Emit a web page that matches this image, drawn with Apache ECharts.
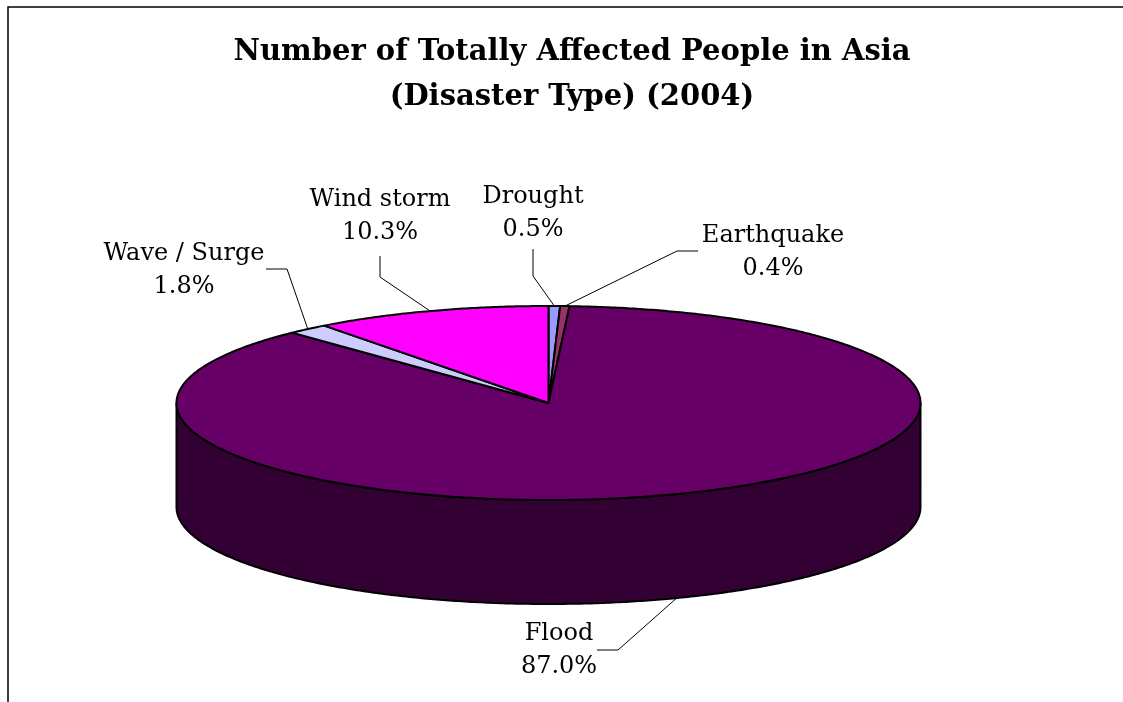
<!DOCTYPE html>
<html><head><meta charset="utf-8">
<script src="https://cdn.jsdelivr.net/npm/echarts@6/dist/echarts.min.js"></script>
<style>html,body{margin:0;padding:0;background:#fff}#c{width:1123px;height:702px}</style>
</head><body><div id="c"></div>
<script>
// ---- data ----
const titleLines = ['Number of Totally Affected People in Asia', '(Disaster Type) (2004)'];
const categories = ['Drought', 'Earthquake', 'Flood', 'Wave / Surge', 'Wind storm'];
const shares = [0.5, 0.4, 87.0, 1.8, 10.3];

// ---- styles / layout ----
const topColors = ['#9999FF', '#993366', '#660066', '#CCCCFF', '#FF00FF'];
const sideColors = ['#4D4D80', '#4D1A33', '#330033', '#666680', '#800080'];
const PIE = { cx: 548.5, cy: 403, rx: 372, ry: 97, depth: 104 };
const labelCenter = [[533, 213], [773, 252], [559, 650], [184, 270], [380, 216]];
const leaderElbow = [
  [[533, 249], [533, 276]],
  [[698, 251], [677, 251]],
  [[597, 650], [618, 650]],
  [[266, 269], [287, 269]],
  [[380, 256], [380, 277]]
];
const FONT = 'DejaVu Serif';

const total = shares.reduce((a, b) => a + b, 0);
const cum = [];
shares.reduce((acc, v, i) => { cum[i] = acc; return acc + v; }, 0);

function pt(a, dy) {
  const r = a * Math.PI / 180;
  return [PIE.cx + PIE.rx * Math.sin(r), PIE.cy - PIE.ry * Math.cos(r) + (dy || 0)];
}
function arc(s, e, dy) {
  const n = Math.max(2, Math.ceil((e - s) / 0.5));
  const out = [];
  for (let k = 0; k <= n; k++) out.push(pt(s + (e - s) * k / n, dy));
  return out;
}

function renderItem(params, api) {
  const i = params.dataIndex;
  const start = api.value(0), val = api.value(1);
  const a0 = start / total * 360, a1 = (start + val) / total * 360;
  const children = [];
  const s0 = Math.max(a0, 90), s1 = Math.min(a1, 270);
  if (s1 > s0) {
    const top = arc(s0, s1, 0);
    const bot = arc(s0, s1, PIE.depth).reverse();
    children.push({ type: 'polygon', shape: { points: top.concat(bot) },
      style: { fill: sideColors[i], stroke: '#000', lineWidth: 2, lineJoin: 'round' } });
  }
  children.push({ type: 'polygon', shape: { points: [[PIE.cx, PIE.cy]].concat(arc(a0, a1, 0)) },
    style: { fill: topColors[i], stroke: '#000', lineWidth: 2, lineJoin: 'round' } });
  const mid = (a0 + a1) / 2;
  const front = mid > 90 && mid < 270;
  const edge = pt(mid, front ? PIE.depth : 0);
  children.push({ type: 'polyline', shape: { points: leaderElbow[i].concat([edge]) },
    style: { stroke: '#000', lineWidth: 1, fill: null } });
  children.push({ type: 'text', x: labelCenter[i][0], y: labelCenter[i][1],
    style: { text: categories[i] + '\n' + (val / total * 100).toFixed(1) + '%',
      fontFamily: FONT, fontSize: 24, fill: '#000', align: 'center', verticalAlign: 'middle', lineHeight: 33 } });
  return { type: 'group', children };
}

const chart = echarts.init(document.getElementById('c'), null, { renderer: 'canvas' });
chart.setOption({
  animation: false,
  backgroundColor: '#fff',
  graphic: [
    { type: 'polyline', shape: { points: [[8, 702], [8, 7], [1123, 7]] }, style: { stroke: '#000', lineWidth: 1.5, fill: null } },
    { type: 'text', x: 572, y: 52, style: { text: titleLines[0], fontFamily: FONT, fontSize: 29, fontWeight: 'bold', fill: '#000', align: 'center', verticalAlign: 'middle' } },
    { type: 'text', x: 572, y: 97, style: { text: titleLines[1], fontFamily: FONT, fontSize: 29, fontWeight: 'bold', fill: '#000', align: 'center', verticalAlign: 'middle' } }
  ],
  series: [{
    type: 'custom',
    coordinateSystem: 'none',
    renderItem: renderItem,
    data: categories.map((n, i) => ({ name: n, value: [cum[i], shares[i]] }))
  }]
});
</script></body></html>
